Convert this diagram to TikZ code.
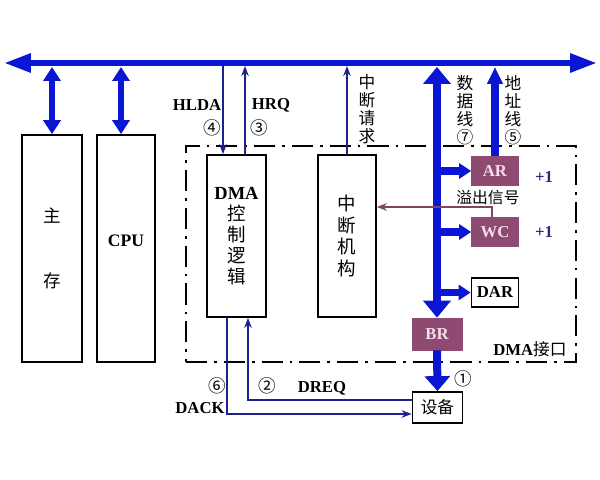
\documentclass[tikz,border=0pt]{standalone}
\usepackage{fontspec}
\setmainfont{Liberation Serif}
\newfontfamily\cjk{Noto Sans CJK SC}
\usetikzlibrary{arrows.meta, positioning, calc}
\definecolor{busblue}{HTML}{0B16D4}
\definecolor{ctlnavy}{HTML}{1E2090}
\definecolor{regpurple}{HTML}{8E4A70}
\definecolor{regtext}{HTML}{F6DDEB}
\definecolor{ovfline}{HTML}{7E4461}
\definecolor{plusblue}{HTML}{2A2A78}

\begin{document}
\begin{tikzpicture}[
  x=0.02cm, y=-0.02cm,
  unit/.style={
    rectangle, draw=black, line width=1pt, fill=white,
    align=center, inner sep=0pt
  },
  reg/.style={
    rectangle, fill=regpurple, draw=regpurple, text=regtext,
    font=\fontsize{9.5}{11}\selectfont\bfseries,
    minimum width=0.94cm, minimum height=0.58cm, inner sep=0pt
  },
  bus/.style={
    line width=0.12cm, busblue,
    {Triangle[length=0.54cm,width=0.36cm]}-{Triangle[length=0.54cm,width=0.36cm]}
  },
  link/.style={
    line width=0.14cm, busblue,
    {Triangle[length=0.28cm,width=0.34cm]}-{Triangle[length=0.28cm,width=0.34cm]}
  },
  fat/.style={line width=0.16cm, busblue},
  ctl/.style={line width=1pt, ctlnavy, -{Stealth[length=0.2cm,width=0.15cm]}},
  lab/.style={font=\fontsize{9.5}{11}\selectfont\bfseries},
  num/.style={font=\cjk\fontsize{10}{11}\selectfont},
  vtxt/.style={font=\cjk\fontsize{9.5}{10.2}\selectfont, align=center, inner sep=0pt}
]
  \useasboundingbox (0,0) rectangle (600,480);

  % system bus
  \coordinate (busL) at (4,63);
  \coordinate (busR) at (597,63);
  \draw[bus] (busL) -- (busR);
  \coordinate (busB) at (0,66);

  % DMA interface frame
  \node[draw=black, line width=1pt, dash pattern=on 12pt off 4pt on 1.5pt off 4pt,
        minimum width=7.8cm, minimum height=4.32cm] (iface) at (381,254) {};
  \node[font=\cjk\fontsize{9.5}{11}\selectfont] (ifacelab) at (530,349)
    {{\rmfamily\bfseries DMA}接口};

  % main memory and CPU
  \node[unit, minimum width=1.2cm, minimum height=4.54cm,
        font=\cjk\fontsize{10}{37}\selectfont] (mem) at (52,248.5) {主\\存};
  \node[unit, minimum width=1.16cm, minimum height=4.54cm,
        font=\fontsize{10}{12}\selectfont\bfseries] (cpu) at (126,248.5) {CPU\\[-3pt]};
  \draw[link] (mem.north |- 0,67) -- (mem.north);
  \draw[link] ([xshift=-0.1cm]cpu.north |- 0,67) -- ([xshift=-0.1cm]cpu.north);

  % DMA control logic and interrupt unit
  \node[unit, minimum width=1.18cm, minimum height=3.24cm,
        font=\cjk\fontsize{10.5}{11.9}\selectfont] (dmactl) at (236.5,236)
    {\textbf{\rmfamily DMA}\\控\\制\\逻\\辑};
  \node[unit, minimum width=1.16cm, minimum height=3.24cm,
        font=\cjk\fontsize{10.5}{12.5}\selectfont] (intr) at (347,236)
    {中\\断\\机\\构};

  % registers
  \node[reg] (ar) at (495,171) {AR};
  \node[reg] (wc) at (495,232) {WC};
  \node[unit, minimum width=0.94cm, minimum height=0.58cm,
        font=\fontsize{9.5}{11}\selectfont\bfseries] (dar) at (495,292.5) {DAR};
  \node[reg, minimum width=1.0cm, minimum height=0.64cm] (br) at (437,334) {BR};
  \node[unit, minimum width=1.0cm, minimum height=0.62cm,
        font=\cjk\fontsize{9.5}{11}\selectfont] (dev) at (437.5,407.5) {设备};

  \node[lab, text=plusblue] (arinc) at (544,177) {+1};
  \node[lab, text=plusblue] (wcinc) at (544,232) {+1};
  \node[font=\cjk\fontsize{9}{11}\selectfont] (ovflab) at (488,198) {溢出信号};

  % data and address lines
  \draw[fat, {Triangle[length=0.34cm,width=0.54cm]}-{Triangle[length=0.34cm,width=0.54cm]}]
    (br.north |- 0,67) -- (br.north);
  \draw[fat, -{Triangle[length=0.34cm,width=0.3cm]}] (ar.north) -- (ar.north |- 0,67);
  \draw[fat, -{Triangle[length=0.24cm,width=0.3cm]}] (ar.west -| br.north) -- (ar.west);
  \draw[fat, -{Triangle[length=0.24cm,width=0.3cm]}] (wc.west -| br.north) -- (wc.west);
  \draw[fat, -{Triangle[length=0.24cm,width=0.3cm]}] (dar.west -| br.north) -- (dar.west);
  \draw[fat, -{Triangle[length=0.3cm,width=0.5cm]}] (br.south) -- (dev.north);
  \node[vtxt] (datalab) at (465,110) {数\\据\\线\\⑦};
  \node[vtxt] (addrlab) at (513,110) {地\\址\\线\\⑤};

  % control signals
  \draw[ctl] ([xshift=-0.27cm]dmactl.north |- busB) -- ([xshift=-0.27cm]dmactl.north);
  \draw[ctl] ([xshift=0.17cm]dmactl.north) -- ([xshift=0.17cm]dmactl.north |- busB);
  \draw[ctl] (intr.north) -- (intr.north |- busB);
  \draw[ctl] ([yshift=0.15cm]dev.west) -| ([xshift=0.23cm]dmactl.south);
  \draw[ctl] ([xshift=-0.19cm]dmactl.south) |- ([yshift=-0.13cm]dev.west);
  \draw[line width=1pt, ovfline, -{Stealth[length=0.2cm,width=0.15cm]}]
    ([xshift=-0.06cm]wc.north) |- (intr.east |- 0,207);

  \node[lab] (hlda) at (197,105) {HLDA};
  \node[lab] (hrq) at (271,105) {HRQ};
  \node[num] (n4) at (212,128) {④};
  \node[num] (n3) at (259,128) {③};
  \node[vtxt] (irqlab) at (367,109) {中\\断\\请\\求};
  \node[lab] (dreq) at (322,388) {DREQ};
  \node[lab] (dack) at (200,408) {DACK};
  \node[num] (n2) at (267,386) {②};
  \node[num] (n6) at (217,386) {⑥};
  \node[num] (n1) at (463,379) {①};
\end{tikzpicture}
\end{document}
